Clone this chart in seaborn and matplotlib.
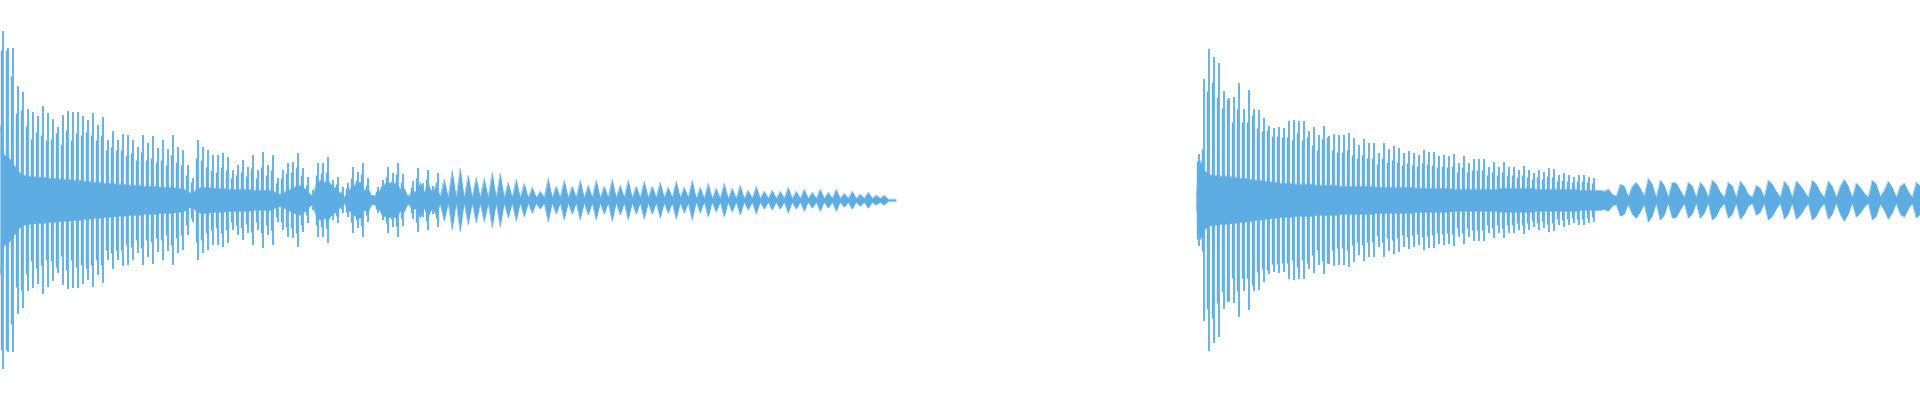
import numpy as np
import pandas as pd
import seaborn as sns
import matplotlib.pyplot as plt

# time in screen columns, amplitude in pixels from the centre line
onsets = [0, 1196]
spike_step = 5
body_step = 4

# first note: tallest column in each 5-column window, the next tallest,
# then the dense body sampled every 4 columns
spikes_a = [169, 152, 152, 114, 108, 91, 88, 84, 94, 87,
            81, 73, 85, 89, 88, 88, 84, 80, 87, 75,
            83, 60, 69, 60, 66, 65, 60, 53, 65, 57,
            64, 52, 60, 51, 65, 53, 50, 35, 22, 60,
            53, 50, 45, 45, 47, 43, 30, 35, 40, 33,
            45, 30, 48, 35, 45, 22, 30, 37, 38, 47,
            32, 23, 10, 37, 37, 43, 20, 23, 13, 17,
            33, 28, 37, 22, 5, 13, 20, 33, 27, 37,
            26, 5, 19, 32, 17, 30, 14, 27]
shoulders_a = [150, 150, 124, 87, 90, 74, 61, 68, 65, 60,
               61, 67, 56, 70, 60, 67, 65, 68, 65, 60,
               65, 50, 53, 50, 50, 45, 47, 40, 48, 40,
               42, 38, 40, 35, 45, 38, 35, 25, 18, 42,
               40, 33, 30, 28, 33, 30, 22, 25, 28, 24,
               32, 22, 33, 25, 30, 17, 22, 27, 28, 33,
               25, 15, 5, 25, 27, 28, 14, 16, 9, 12,
               22, 20, 26, 15, 4, 9, 14, 23, 19, 26,
               18, 4, 13, 22, 12, 21, 10, 18]
body_a = [75, 45, 43, 38, 32, 27,
          25, 24, 24, 23, 23, 23, 22, 22, 22, 21, 21, 21, 20, 20, 20,
          19, 19, 18, 18, 18, 17, 17, 17, 16, 16, 16, 15, 15, 15, 15,
          14, 14, 14, 14, 13, 13, 13, 13, 12, 12,
          11, 8, 7, 11,
          13, 13, 13, 12, 12, 12, 12, 11, 11, 11, 11, 11, 11, 10, 10, 10, 10, 10, 10,
          7, 6, 8, 10, 12, 14, 15, 12, 8,
          4, 16, 20, 18, 20, 14, 12, 7, 3, 10, 13, 17, 18, 10, 12, 3, 6,
          11, 16, 18, 16, 18, 11, 12, 3, 10, 8, 18, 8, 17, 7, 15, 4,
          21, 3, 30, 3, 32, 3, 25, 3, 23, 3, 22, 3, 28, 3, 27, 3, 18, 3,
          21, 3, 17, 3, 13, 3, 9, 3, 22, 3, 14, 3, 20, 3, 14, 3, 20, 3,
          15, 3, 20, 3, 14, 3, 21, 3, 15, 3, 20, 3, 14, 3, 19, 3, 14, 3,
          18, 3, 13, 3, 19, 3, 13, 3, 20, 2, 13, 2, 17, 2, 12, 2, 17, 2,
          12, 2, 15, 2, 10, 2, 14, 2, 9, 2, 10, 2, 9, 2, 13, 2, 9, 2,
          11, 2, 8, 2, 11, 2, 8, 2, 11, 2, 7, 2, 9, 2, 6, 2, 8, 2,
          5, 2, 5, 1, 1, 1]

# second note
spikes_b = [46, 121, 151, 143, 137, 109, 102, 103, 117, 91,
            110, 91, 90, 82, 74, 72, 73, 72, 79, 80,
            79, 79, 69, 73, 65, 74, 64, 66, 65, 65,
            67, 62, 55, 61, 57, 57, 47, 57, 51, 54,
            52, 47, 49, 47, 45, 50, 48, 48, 44, 45,
            44, 46, 37, 44, 37, 41, 41, 41, 33, 38,
            33, 38, 33, 33, 30, 34, 30, 27, 30, 28,
            32, 31, 25, 27, 25, 23, 25, 25, 23, 22]
shoulders_b = [39, 51, 109, 118, 103, 92, 101, 78, 91, 78,
               78, 85, 72, 69, 70, 64, 64, 63, 63, 60,
               67, 60, 63, 55, 50, 61, 63, 50, 48, 48,
               50, 45, 42, 45, 42, 42, 36, 42, 38, 40,
               38, 35, 37, 35, 34, 37, 36, 35, 33, 34,
               33, 34, 28, 33, 28, 30, 30, 30, 25, 28,
               25, 28, 25, 25, 23, 25, 23, 21, 23, 21,
               24, 23, 19, 20, 19, 18, 19, 19, 18, 17]
body_b = [5, 40, 30,
          26, 25, 25, 24, 24, 24, 23, 23, 22, 22, 21, 21, 20, 20, 19, 19, 18, 18,
          17, 17, 17, 17, 16, 16, 16, 16, 16, 15, 15, 15, 15, 15, 15,
          14, 14, 14, 14, 14, 14, 14, 14, 14, 13, 13, 13, 13, 13, 13,
          13, 13, 13, 13, 12, 12, 12, 12, 12, 12, 12, 12, 12,
          11, 11, 11, 11, 11, 11, 11, 11, 11, 11, 11, 11,
          12, 12, 12, 12, 12, 12, 12, 12, 12, 11, 11, 11, 11,
          11, 11, 11, 11, 11, 11, 11, 10, 10, 10, 10, 10,
          10, 9, 11, 6, 4, 16, 14, 4, 14, 18,
          12, 4, 22, 16, 3, 20, 15, 3, 18, 17,
          10, 3, 18, 14, 3, 18, 13, 3, 20, 16,
          8, 3, 18, 14, 3, 19, 14, 6, 3, 15,
          12, 3, 20, 16, 9, 3, 19, 14, 3, 19,
          15, 9, 3, 20, 16, 8, 3, 19, 14, 3,
          14, 21, 14, 3, 17, 13, 7, 3, 20, 16,
          4, 10, 19, 13, 3, 14, 17, 9, 3, 18,
          14]

wave_color = "#5dade2"

sns.set_theme(style="white")
fig = plt.figure(figsize=(19.2, 4), dpi=100)
ax = fig.add_axes([0, 0, 1, 1])

notes = [(onsets[0], spikes_a, shoulders_a, body_a),
         (onsets[1], spikes_b, shoulders_b, body_b)]
for onset, spikes, shoulders, body in notes:
    df = pd.DataFrame({"t": onset + body_step * np.arange(len(body)),
                       "amp": np.array(body, dtype=float)})
    ax.fill_between(df["t"], -df["amp"], df["amp"], color=wave_color, lw=0)
    sns.lineplot(data=df, x="t", y="amp", ax=ax, color=wave_color, lw=0.3)
    sns.lineplot(x=df["t"], y=-df["amp"], ax=ax, color=wave_color, lw=0.3)

    sp = np.array(spikes, dtype=float)
    ts = onset + spike_step * (np.arange(len(sp)) + 0.5)
    ax.vlines(ts, -sp, sp, color=wave_color, lw=1.3)

    sh = np.array(shoulders, dtype=float)
    ax.vlines(ts - 2, -sh, sh, color=wave_color, lw=1.0)

ax.set_xlim(0, 1920)
ax.set_ylim(-200, 200)
ax.axis("off")
fig.savefig("out.png", dpi=100)
